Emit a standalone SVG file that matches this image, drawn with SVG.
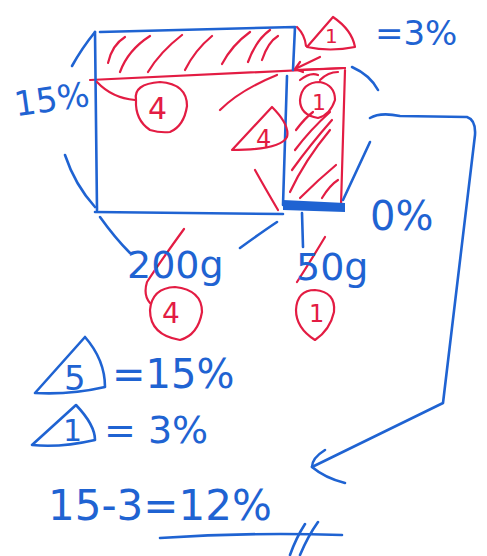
<svg xmlns="http://www.w3.org/2000/svg" width="487" height="556" viewBox="0 0 487 556">
<style>
.b{fill:none;stroke:#1f63d2;stroke-width:2.6;stroke-linecap:round;stroke-linejoin:round}
.r{fill:none;stroke:#e31c43;stroke-width:2.2;stroke-linecap:round;stroke-linejoin:round}
.tb{fill:#1f63d2;font-family:"DejaVu Sans",sans-serif}
.tr{fill:#e31c43;font-family:"DejaVu Sans",sans-serif}
</style>
<rect width="487" height="556" fill="#fff"/>
<g id="red-hatch">
<path class="r" d="M90,80 L345,68"/>
<path class="r" d="M293,70 L345,68 M345,70 L341,205"/>
<path class="r" d="M108,63 Q112,45 125,37 M120,72 Q128,50 150,36 M148,72 Q160,52 182,35 M185,70 Q195,50 212,36 M222,64 Q232,45 250,32 M248,62 Q256,40 270,30 M262,60 Q268,42 278,36"/>
<path class="r" d="M290,192 Q305,160 330,130 M292,170 Q310,145 332,120 M295,150 Q310,130 330,112 M296,130 Q305,118 313,112 M300,198 Q318,180 336,165 M322,198 Q330,185 338,180 M300,80 Q310,72 318,75 M320,80 Q328,72 338,72"/>
<path class="r" d="M297,27 Q305,35 306,46"/>
</g>
<g id="rectangles">
<path class="b" d="M100,32 L295,27 L293,70 M287,76 L283,205 M95,32 L97,210 M95,212 L283,214"/>
<path d="M283,200 L345,203 L345,212 L283,210 Z" fill="#1f63d2"/>
</g>
<g id="red-labels">
<path class="r" d="M307,47 L333,17 Q352,30 355,47 Q330,52 307,47 Z"/>
<text class="tr" x="325" y="43" font-size="20">1</text>
<path class="r" d="M320,57 L295,69 M300,62 L295,69 L303,72"/>
<path class="r" d="M97,82 Q112,98 135,100"/>
<path class="r" d="M136,100 Q133,84 160,82 Q187,84 187,106 Q184,126 170,132 Q160,133 150,130 Q135,120 136,100 Z"/>
<text class="tr" x="148" y="119" font-size="30">4</text>
<path class="r" d="M232,150 L272,107 Q290,125 287,137 Q280,150 232,150 Z"/>
<text class="tr" x="256" y="147" font-size="24">4</text>
<path class="r" d="M220,110 Q240,90 277,75"/>
<path class="r" d="M255,170 Q265,188 278,210"/>
<path class="r" d="M300,100 Q302,82 320,82 Q335,85 335,100 Q330,115 318,118 Q300,115 300,100 Z"/>
<text class="tr" x="312" y="110" font-size="22">1</text>
<path class="r" d="M184,229 Q160,262 147,282 Q143,295 150,303"/>
<path class="r" d="M325,237 Q310,262 297,282"/>
<path class="r" d="M150,310 Q152,288 175,287 Q202,290 202,312 Q198,335 180,340 Q150,335 150,310 Z"/>
<text class="tr" x="162" y="323" font-size="28">4</text>
<path class="r" d="M296,310 Q297,290 315,290 Q336,292 334,312 Q330,330 315,340 Q296,328 296,310 Z"/>
<text class="tr" x="309" y="322" font-size="24">1</text>
</g>
<g id="blue-notes">
<path class="b" d="M72,66 Q82,48 95,32"/>
<path class="b" d="M65,155 Q75,185 95,207"/>
<path class="b" d="M100,217 Q115,238 130,253"/>
<path class="b" d="M240,248 Q262,232 277,222"/>
<path class="b" d="M302,213 L303,247"/>
<path class="b" d="M343,200 Q358,168 370,142"/>
<path class="b" d="M352,67 Q370,75 378,90"/>
<text class="tb" x="14" y="112" font-size="34" transform="rotate(-8 45 100)">15%</text>
<text class="tb" x="375" y="45" font-size="34">=3%</text>
<text class="tb" x="370" y="230" font-size="40">0%</text>
<text class="tb" x="127" y="278" font-size="38">200g</text>
<text class="tb" x="296" y="280" font-size="38">50g</text>
<path class="b" d="M35,393 L85,337 Q105,360 105,387 Q70,395 35,393 Z"/>
<text class="tb" x="64" y="390" font-size="34">5</text>
<text class="tb" x="112" y="388" font-size="40">=15%</text>
<path class="b" d="M32,445 L76,405 Q95,425 95,440 Q60,448 32,445 Z"/>
<text class="tb" x="63" y="441" font-size="30">1</text>
<text class="tb" x="104" y="443" font-size="38">= 3%</text>
<text class="tb" x="48" y="520" font-size="42">15-3=12%</text>
<path class="b" d="M160,538 Q250,532 342,535"/>
<path class="b" d="M290,555 Q296,538 305,524 M300,555 Q308,536 318,522"/>
<path class="b" d="M370,118 Q380,112 400,116 L467,117 Q476,120 475,135 L443,403 L312,467"/>
<path class="b" d="M325,450 Q312,458 312,467 Q325,478 345,483"/>
</g>
</svg>
